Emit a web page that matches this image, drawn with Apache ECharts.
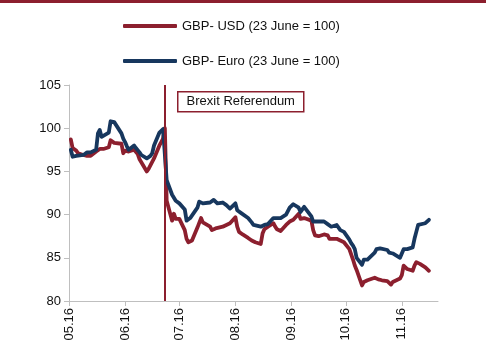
<!DOCTYPE html>
<html>
<head>
<meta charset="utf-8">
<script src="https://cdn.jsdelivr.net/npm/echarts@6/dist/echarts.min.js"></script>
<style>
  html, body { margin: 0; padding: 0; background: #fff; }
  #chart { width: 494px; height: 345px; }
</style>
</head>
<body>
<div id="chart"></div>
<script>
// Trading days, May - November 2016
const dates = [
  '2016-05-02','2016-05-03','2016-05-04','2016-05-05','2016-05-06',
  '2016-05-09','2016-05-10','2016-05-11','2016-05-12','2016-05-13',
  '2016-05-16','2016-05-17','2016-05-18','2016-05-19','2016-05-20',
  '2016-05-23','2016-05-24','2016-05-25','2016-05-26','2016-05-27',
  '2016-05-30','2016-05-31','2016-06-01','2016-06-02','2016-06-03',
  '2016-06-06','2016-06-07','2016-06-08','2016-06-09','2016-06-10',
  '2016-06-13','2016-06-14','2016-06-15','2016-06-16','2016-06-17',
  '2016-06-20','2016-06-21','2016-06-22','2016-06-23','2016-06-24',
  '2016-06-27','2016-06-28','2016-06-29','2016-06-30','2016-07-01',
  '2016-07-04','2016-07-05','2016-07-06','2016-07-07','2016-07-08',
  '2016-07-11','2016-07-12','2016-07-13','2016-07-14','2016-07-15',
  '2016-07-18','2016-07-19','2016-07-20','2016-07-21','2016-07-22',
  '2016-07-25','2016-07-26','2016-07-27','2016-07-28','2016-07-29',
  '2016-08-01','2016-08-02','2016-08-03','2016-08-04','2016-08-05',
  '2016-08-08','2016-08-09','2016-08-10','2016-08-11','2016-08-12',
  '2016-08-15','2016-08-16','2016-08-17','2016-08-18','2016-08-19',
  '2016-08-22','2016-08-23','2016-08-24','2016-08-25','2016-08-26',
  '2016-08-29','2016-08-30','2016-08-31','2016-09-01','2016-09-02',
  '2016-09-05','2016-09-06','2016-09-07','2016-09-08','2016-09-09',
  '2016-09-12','2016-09-13','2016-09-14','2016-09-15','2016-09-16',
  '2016-09-19','2016-09-20','2016-09-21','2016-09-22','2016-09-23',
  '2016-09-26','2016-09-27','2016-09-28','2016-09-29','2016-09-30',
  '2016-10-03','2016-10-04','2016-10-05','2016-10-06','2016-10-07',
  '2016-10-10','2016-10-11','2016-10-12','2016-10-13','2016-10-14',
  '2016-10-17','2016-10-18','2016-10-19','2016-10-20','2016-10-21',
  '2016-10-24','2016-10-25','2016-10-26','2016-10-27','2016-10-28',
  '2016-10-31','2016-11-01','2016-11-02','2016-11-03','2016-11-04',
  '2016-11-07','2016-11-08','2016-11-09','2016-11-10','2016-11-11',
  '2016-11-14','2016-11-15','2016-11-16'
];

// GBP-USD, rebased to 23 June = 100
const gbpUsd = [
  98.7, 97.7, 97.5, 97.4, 97.1,
  96.9, 96.9, 96.8, 96.7, 96.8,
  97.3, 97.5, 97.6, 97.7, 97.6,
  97.8, 98.6, 98.5, 98.3, 98.4,
  98.2, 97.1, 97.4, 97.6, 97.3,
  97.5, 97.5, 97.0, 96.4, 96.2,
  95.0, 95.3, 95.5, 96.1, 96.5,
  98.0, 98.4, 98.8, 100.0, 91.6,
  89.3, 90.1, 89.5, 89.5, 89.5,
  88.2, 87.2, 86.8, 86.9, 87.0,
  88.5, 88.7, 89.6, 89.1, 89.0,
  88.6, 88.2, 88.3, 88.4, 88.4,
  88.6, 88.7, 88.8, 88.9, 89.0,
  89.7, 88.6, 88.0, 87.9, 87.7,
  87.3, 87.2, 87.0, 86.9, 86.8,
  86.6, 87.8, 88.3, 88.5, 88.6,
  89.0, 88.6, 88.3, 88.2, 88.1,
  88.8, 89.0, 89.2, 89.3, 89.4,
  90.1, 89.5, 89.3, 89.6, 89.6,
  89.3, 88.2, 87.6, 87.4, 87.5,
  87.7, 87.8, 87.6, 87.2, 87.1,
  87.2, 87.1, 87.0, 86.8, 86.8,
  86.0, 85.4, 84.8, 84.1, 83.6,
  81.8, 82.2, 82.4, 82.4, 82.2,
  82.7, 82.6, 82.5, 82.4, 82.4,
  82.3, 82.2, 81.9, 82.2, 82.2,
  82.6, 83.0, 84.1, 84.0, 83.7,
  83.5, 84.1, 84.5, 84.7, 84.3,
  83.9, 83.7, 83.5
];

// GBP-Euro, rebased to 23 June = 100
const gbpEur = [
  97.5, 96.7, 96.9, 96.8, 96.9,
  96.9, 97.0, 97.2, 97.1, 97.2,
  97.5, 99.4, 99.8, 99.0, 98.8,
  99.5, 100.8, 100.7, 100.7, 100.6,
  99.4, 98.8, 98.4, 97.9, 97.5,
  98.0, 97.7, 97.6, 97.2, 96.9,
  96.5, 96.3, 96.8, 97.1, 98.0,
  99.5, 99.7, 99.9, 100.0, 94.0,
  92.3, 92.2, 91.6, 91.4, 91.3,
  90.6, 89.3, 89.4, 89.6, 89.8,
  90.8, 91.5, 91.6, 91.3, 91.4,
  91.4, 91.5, 91.7, 91.5, 91.3,
  91.4, 91.3, 91.1, 90.9, 90.7,
  91.3, 90.5, 90.3, 90.2, 90.1,
  89.6, 89.4, 89.1, 88.8, 88.6,
  88.6, 88.5, 88.8, 88.7, 88.9,
  89.6, 89.7, 89.6, 89.6, 89.6,
  90.0, 90.4, 90.8, 91.0, 91.2,
  90.8, 90.3, 90.6, 90.9, 90.7,
  89.8, 89.2, 89.2, 89.2, 89.2,
  89.2, 89.0, 88.9, 88.7, 88.6,
  88.8, 88.7, 88.2, 88.1, 88.0,
  87.1, 86.7, 86.4, 86.0, 85.0,
  84.2, 84.8, 84.8, 84.8, 84.9,
  85.6, 86.0, 86.1, 86.1, 86.1,
  85.9, 85.6, 85.5, 85.5, 85.4,
  85.0, 85.2, 86.0, 86.0, 86.0,
  86.2, 87.2, 88.0, 88.8, 89.0,
  89.0, 89.1, 89.4
];

const seriesNames = ['GBP- USD (23 June = 100)', 'GBP- Euro (23 June = 100)'];
const referendumDate = '2016-06-23';
const referendumLabel = 'Brexit Referendum';
const yTicks = { min: 80, max: 105, step: 5 };
const axisRange = ['2016-05-01', '2016-11-21'];

const RED = '#8C1F2E';
const BLUE = '#17375E';
const FONT = 'Liberation Sans, Arial, sans-serif';
const DAY = 24 * 3600 * 1000;

const chart = echarts.init(document.getElementById('chart'), null, { renderer: 'canvas' });

chart.setOption({
  animation: false,
  backgroundColor: '#ffffff',
  textStyle: { fontFamily: FONT },
  legend: {
    orient: 'vertical',
    left: 118,
    top: 13,
    itemWidth: 54,
    itemHeight: 4,
    itemGap: 19,
    icon: 'roundRect',
    textStyle: { fontSize: 13, color: '#111', fontFamily: FONT, lineHeight: 16 },
    data: seriesNames
  },
  grid: { left: 69, right: 56, top: 85, bottom: 44, containLabel: false },
  xAxis: {
    type: 'time',
    min: axisRange[0],
    max: axisRange[1],
    minInterval: 28 * DAY,
    maxInterval: 31 * DAY,
    splitNumber: 7,
    axisLine: { lineStyle: { color: '#BFBFBF', width: 1 } },
    axisTick: { show: true, length: 5, lineStyle: { color: '#BFBFBF' } },
    splitLine: { show: false },
    axisLabel: {
      rotate: 90,
      margin: 7,
      fontSize: 13,
      color: '#111',
      fontFamily: FONT,
      hideOverlap: false,
      formatter: function (v) {
        const d = new Date(v);
        const mm = String(d.getMonth() + 1).padStart(2, '0');
        const yy = String(d.getFullYear()).slice(2);
        return mm + '.' + yy;
      }
    }
  },
  yAxis: {
    type: 'value',
    min: yTicks.min,
    max: yTicks.max,
    interval: yTicks.step,
    axisLine: { show: true, lineStyle: { color: '#BFBFBF', width: 1 } },
    axisTick: { show: true, length: 5, lineStyle: { color: '#BFBFBF' } },
    splitLine: { show: false },
    axisLabel: { fontSize: 13, color: '#111', fontFamily: FONT, margin: 8 }
  },
  series: [
    {
      name: seriesNames[0],
      type: 'line',
      data: dates.map((d, i) => [d, gbpUsd[i]]),
      showSymbol: false,
      symbol: 'none',
      color: RED,
      lineStyle: { color: RED, width: 3.8, join: 'round', cap: 'round' },
      z: 2
    },
    {
      name: seriesNames[1],
      type: 'line',
      data: dates.map((d, i) => [d, gbpEur[i]]),
      showSymbol: false,
      symbol: 'none',
      color: BLUE,
      lineStyle: { color: BLUE, width: 3.8, join: 'round', cap: 'round' },
      z: 3,
      markLine: {
        silent: true,
        symbol: ['none', 'none'],
        label: { show: false },
        lineStyle: { color: RED, width: 2, type: 'solid' },
        data: [{ xAxis: referendumDate }]
      }
    }
  ],
  graphic: [
    {
      type: 'rect',
      left: 0,
      top: 0,
      shape: { width: 486, height: 3 },
      style: { fill: RED }
    },
    {
      type: 'group',
      left: 177,
      top: 91,
      children: [
        {
          type: 'rect',
          shape: { x: 0, y: 0, width: 126, height: 20 },
          style: { fill: '#ffffff', stroke: RED, lineWidth: 1.5 }
        },
        {
          type: 'text',
          x: 63,
          y: 10,
          style: {
            text: referendumLabel,
            fill: '#111',
            font: '13px ' + FONT,
            align: 'center',
            verticalAlign: 'middle'
          }
        }
      ]
    }
  ]
});
</script>
</body>
</html>
